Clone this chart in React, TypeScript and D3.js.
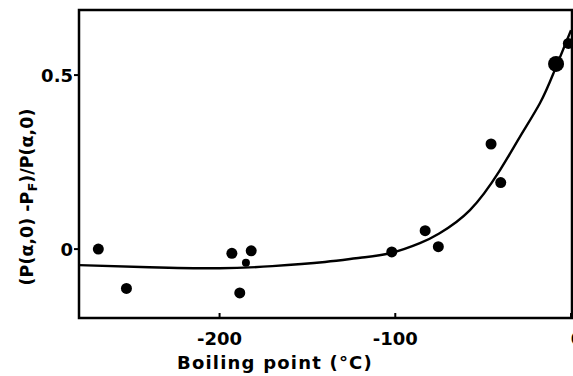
import { useRef, useEffect } from 'react';
import * as d3 from 'd3';

const W = 573;
const H = 376;

// measured points: boiling point (°C), relative change
const bpX = [-269, -253, -193, -182, -188.5, -185, -102, -83, -75.5, -45.5, -40, -8.5, -1.5];
const relY = [0.0, -0.113, -0.012, -0.005, -0.126, -0.039, -0.008, 0.053, 0.007, 0.302, 0.191, 0.532, 0.591];
const bigPt = [false, false, false, false, false, false, false, false, false, false, false, true, false];

// fitted curve
const fitX = [-280, -240, -200, -170, -140, -120, -103, -86, -75, -57.5, -40.4, -29, -17.7, -10, 0];
const fitY = [-0.046, -0.052, -0.055, -0.049, -0.037, -0.025, -0.012, 0.017, 0.045, 0.112, 0.227, 0.323, 0.419, 0.505, 0.629];

const xTicks = [-200, -100, 0];
const yTicks = [0, 0.5];

const FONT = "'DejaVu Sans', sans-serif";

export default function App() {
  const svgRef = useRef<SVGSVGElement>(null);

  useEffect(() => {
    const svg = d3.select(svgRef.current);
    svg.selectAll('*').remove();

    const x = d3.scaleLinear().domain([-280, 0]).range([79, 571]);
    const y = d3.scaleLinear().domain([-0.198, 0.687]).range([318, 10]);

    svg.append('rect').attr('width', W).attr('height', H).attr('fill', '#fff');

    // frame
    svg
      .append('rect')
      .attr('x', 79)
      .attr('y', 10)
      .attr('width', 493)
      .attr('height', 308)
      .attr('fill', 'none')
      .attr('stroke', '#000')
      .attr('stroke-width', 2.5);

    // x ticks (inward)
    xTicks.forEach((t, i) => {
      svg
        .append('line')
        .attr('x1', x(t))
        .attr('x2', x(t))
        .attr('y1', 318)
        .attr('y2', 313)
        .attr('stroke', '#000')
        .attr('stroke-width', 2);
      svg
        .append('text')
        .attr('x', x(t) + (i === xTicks.length - 1 ? 6 : 0))
        .attr('y', 345)
        .attr('text-anchor', 'middle')
        .attr('font-family', FONT)
        .attr('font-weight', 700)
        .attr('font-size', 18)
        .text(t === 0 ? '0' : String(t));
    });

    // y ticks (outward)
    yTicks.forEach((t) => {
      svg
        .append('line')
        .attr('x1', 79)
        .attr('x2', 74)
        .attr('y1', y(t))
        .attr('y2', y(t))
        .attr('stroke', '#000')
        .attr('stroke-width', 2);
      svg
        .append('text')
        .attr('x', 73)
        .attr('y', y(t) + 7)
        .attr('text-anchor', 'end')
        .attr('font-family', FONT)
        .attr('font-weight', 700)
        .attr('font-size', 18)
        .text(t === 0 ? '0' : String(t));
    });

    // fit curve
    const line = d3
      .line<number>()
      .x((d, i) => x(fitX[i]))
      .y((d) => y(d))
      .curve(d3.curveNatural);
    svg
      .append('path')
      .attr('d', line(fitY))
      .attr('fill', 'none')
      .attr('stroke', '#000')
      .attr('stroke-width', 2.4);

    // points
    bpX.forEach((bx, i) => {
      svg
        .append('circle')
        .attr('cx', x(bx))
        .attr('cy', y(relY[i]))
        .attr('r', bigPt[i] ? 8 : i === 5 ? 4 : 5.5)
        .attr('fill', '#000');
    });

    // axis titles
    svg
      .append('text')
      .attr('x', 177)
      .attr('y', 369)
      .attr('font-family', FONT)
      .attr('font-weight', 700)
      .attr('font-size', 18)
      .attr('letter-spacing', 1.2)
      .text('Boiling point (°C)');

    const yl = svg
      .append('text')
      .attr('transform', 'translate(33,197) rotate(-90)')
      .attr('text-anchor', 'middle')
      .attr('font-family', FONT)
      .attr('font-weight', 700)
      .attr('font-size', 17.5);
    yl.append('tspan').text('(P(α,0) -P');
    yl.append('tspan').attr('font-size', 13).attr('dy', 4).text('F');
    yl.append('tspan').attr('dy', -4).text(')/P(α,0)');
  }, []);

  return (
    <svg
      ref={svgRef}
      width={W}
      height={H}
      style={{ position: 'absolute', left: 0, top: 0 }}
    />
  );
}
